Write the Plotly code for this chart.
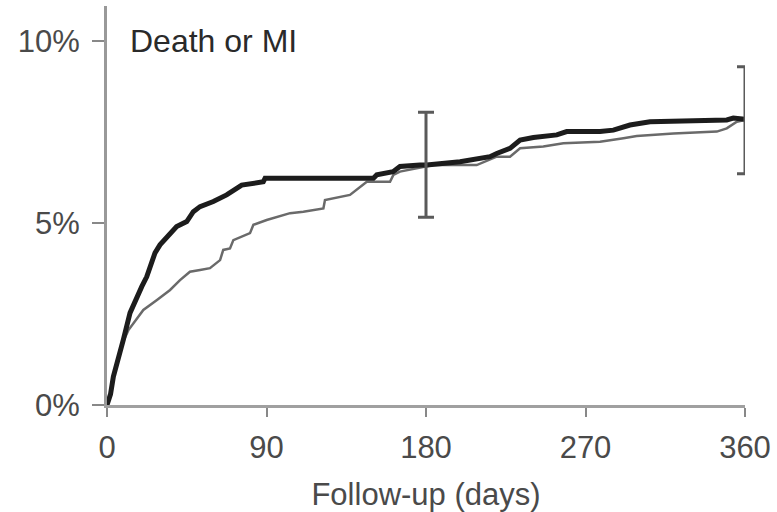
import plotly.graph_objects as go

# Thick black curve (days, cumulative %)
days_black = [0, 2, 3.6, 6.4, 9.2, 13.0, 16.8, 19.6, 22.4, 24.3, 27.1, 29.9, 33.7, 39.3, 45.0, 48.7,
              52.5, 60.0, 67.5, 76.0, 88.2, 89.2, 150.3, 152.2, 161.4, 165.3, 176.6, 180.4, 199.2,
              216.1, 219.9, 227.4, 233.1, 240.6, 253.8, 259.4, 278.2, 285.7, 295.1, 306.4, 349.7,
              353.4, 360]
pct_black = [0, 0.3, 0.78, 1.24, 1.79, 2.53, 2.98, 3.25, 3.52, 3.80, 4.18, 4.40, 4.62, 4.90, 5.04, 5.31,
             5.45, 5.59, 5.77, 6.04, 6.13, 6.23, 6.23, 6.32, 6.41, 6.55, 6.59, 6.59, 6.68,
             6.82, 6.91, 7.05, 7.28, 7.35, 7.42, 7.51, 7.51, 7.55, 7.69, 7.78, 7.83,
             7.88, 7.85]

# Thin gray curve
days_gray = [0, 2, 3.6, 6.4, 9.2, 12, 14.8, 20.5, 28.0, 35.6, 41.2, 46.8, 52.5, 58.1, 63.8, 65.6, 69.4,
             71.3, 80.7, 82.6, 90.1, 103.3, 110.8, 122.1, 123.0, 137.1, 146.6, 159.7, 161.6, 165.3,
             184.1, 208.6, 219.9, 227.4, 233.1, 246.2, 257.5, 278.2, 291.4, 298.9, 319.6, 344.1,
             349.7, 355.4, 360]
pct_gray = [0, 0.3, 0.78, 1.24, 1.75, 2.05, 2.24, 2.61, 2.88, 3.16, 3.43, 3.66, 3.71, 3.76, 3.98, 4.26, 4.30,
            4.53, 4.72, 4.95, 5.08, 5.27, 5.31, 5.40, 5.63, 5.77, 6.13, 6.13, 6.32, 6.41,
            6.59, 6.59, 6.82, 6.82, 7.05, 7.10, 7.19, 7.23, 7.33, 7.39, 7.46, 7.51,
            7.60, 7.78, 7.83]

# Confidence intervals
ci_days = [180, 360]
ci_center = [6.62, 7.82]
ci_upper = [8.04, 9.29]
ci_lower = [5.16, 6.35]

x_ticks = [0, 90, 180, 270, 360]
y_ticks = [0, 5, 10]
y_labels = ["0%", "5%", "10%"]

FONT = "Liberation Sans, Arial, sans-serif"

fig = go.Figure()
fig.add_trace(go.Scatter(x=days_gray, y=pct_gray, mode="lines",
                         line=dict(color="#6a6a6a", width=2.5), showlegend=False, cliponaxis=False))
fig.add_trace(go.Scatter(x=days_black, y=pct_black, mode="lines",
                         line=dict(color="#1c1c1c", width=5), showlegend=False, cliponaxis=False))
fig.add_trace(go.Scatter(
    x=ci_days, y=ci_center, mode="markers", marker=dict(size=0.1, color="rgba(0,0,0,0)"),
    error_y=dict(type="data", symmetric=False,
                 array=[u - c for u, c in zip(ci_upper, ci_center)],
                 arrayminus=[c - l for c, l in zip(ci_center, ci_lower)],
                 color="#5a5a5a", thickness=3, width=8),
    showlegend=False, cliponaxis=False))

fig.add_annotation(x=0, y=10, xref="paper", yref="y", xshift=21, text="Death or MI",
                   showarrow=False, xanchor="left", yanchor="middle",
                   font=dict(family=FONT, size=32, color="#2a2a2a"))

fig.update_layout(
    width=777, height=512,
    margin=dict(l=107, r=32, t=6, b=107),
    paper_bgcolor="white", plot_bgcolor="white",
    font=dict(family=FONT, size=31, color="#4a4a4a"),
)
fig.update_xaxes(range=[0, 360], tickvals=x_ticks, ticktext=[str(v) for v in x_ticks],
                 showgrid=False, zeroline=False, showline=True, linecolor="#a0a0a0", linewidth=3,
                 ticks="outside", ticklen=9, tickwidth=2, tickcolor="#888888", ticklabelstandoff=4,
                 automargin=False,
                 title=dict(text="Follow-up (days)", font=dict(size=31, color="#4a4a4a"), standoff=26))
fig.update_yaxes(range=[0, 10.96], tickvals=y_ticks, ticktext=y_labels,
                 showgrid=False, zeroline=False, showline=True, linecolor="#999999", linewidth=3,
                 automargin=False,
                 ticks="outside", ticklen=12, tickwidth=2, tickcolor="#888888", ticklabelstandoff=6)

fig.write_html("out.html")
